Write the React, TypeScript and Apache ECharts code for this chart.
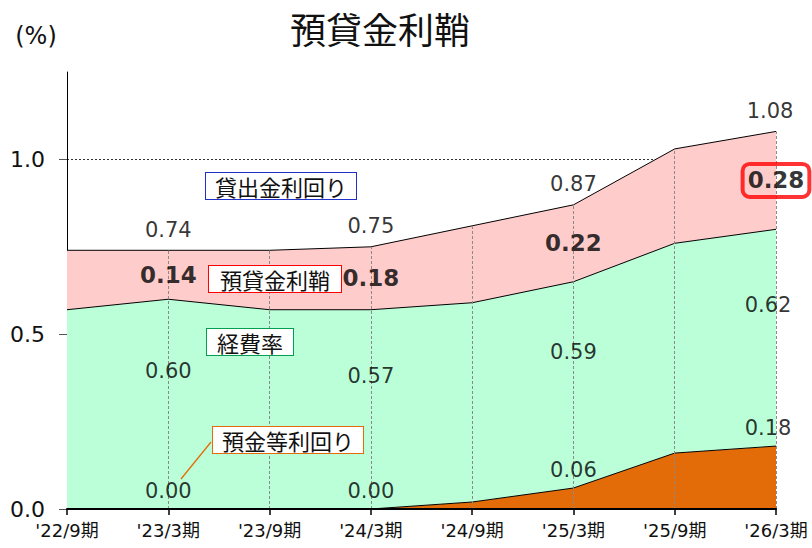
import React, { useEffect, useRef } from "react";
import * as echarts from "echarts";

const categories = ["'22/9期", "'23/3期", "'23/9期", "'24/3期", "'24/9期", "'25/3期", "'25/9期", "'26/3期"];
const depositYield = [0.0, 0.0, 0.0, 0.0, 0.02, 0.06, 0.16, 0.18];
const expenseRatio = [0.57, 0.6, 0.57, 0.57, 0.57, 0.59, 0.6, 0.62];
const loanMargin = [0.17, 0.14, 0.17, 0.18, 0.22, 0.22, 0.27, 0.28];
const loanYield = [0.74, 0.74, 0.74, 0.75, 0.81, 0.87, 1.03, 1.08];
const labelIndices = [1, 3, 5, 7];
const yTickLabels = ["0.0", "0.5", "1.0"];

const FONT = "'DejaVu Sans', 'Noto Sans CJK JP', sans-serif";
const JP = "'Noto Sans CJK JP', 'DejaVu Sans', sans-serif";

const last = categories.length - 1;

// label anchor points, placed through the axes
function labelPoints(yOf: (i: number) => number, valOf: (i: number) => number, lastLabel: any = {}) {
  return labelIndices.map((i) => ({
    value: [i, yOf(i), valOf(i)],
    label: i === last ? lastLabel : undefined,
  }));
}

const valFmt = (p: any) => Number(p.value[2]).toFixed(2);

export default function App() {
  const ref = useRef<HTMLDivElement>(null);
  useEffect(() => {
    if (!ref.current) return;
    const chart = echarts.init(ref.current, null, { renderer: "svg" });
    const dropLines = categories.slice(1).map((_, k) => {
      const i = k + 1;
      return [{ coord: [i, 0] }, { coord: [i, loanYield[i]] }];
    });
    const annot = (text: string, cx: number, cy: number, color: string, padH: number) => ({
      type: "text",
      x: cx,
      y: cy,
      z: 100,
      style: {
        text,
        font: `22px ${JP}`,
        fill: "#111",
        align: "center",
        verticalAlign: "middle",
        backgroundColor: "#fff",
        borderColor: color,
        borderWidth: 1,
        padding: [2, padH, 2, padH],
      },
    });
    const areaSeries = (name: string, data: number[], color: string) => ({
      name,
      type: "line",
      stack: "a",
      data,
      symbol: "none",
      lineStyle: { color: "#000", width: 1 },
      areaStyle: { color, opacity: 1 },
      z: 2,
    });
    const labelSeries = (data: any[], label: any) => ({
      type: "scatter",
      data,
      symbolSize: 0,
      silent: true,
      z: 20,
      itemStyle: { color: "transparent" },
      label: { show: true, color: "#000", fontSize: 21, formatter: valFmt, ...label },
    });
    chart.setOption({
      animation: false,
      textStyle: { fontFamily: FONT },
      grid: { left: 67, right: 36, top: 72, bottom: 39, containLabel: false },
      xAxis: {
        type: "category",
        data: categories,
        boundaryGap: false,
        axisLine: { show: true, lineStyle: { color: "#000", width: 2 } },
        axisTick: { show: true, alignWithLabel: true, length: 6, lineStyle: { color: "#000", width: 1.5 } },
        axisLabel: { fontSize: 18, color: "#111", margin: 12, fontFamily: FONT },
        splitLine: { show: false },
        z: 10,
      },
      yAxis: {
        type: "value",
        min: 0,
        max: 1.25,
        interval: 0.5,
        axisLine: { show: true, lineStyle: { color: "#000", width: 1 } },
        axisTick: { show: true, length: 8, lineStyle: { color: "#555" } },
        axisLabel: {
          fontSize: 22,
          color: "#111",
          margin: 22,
          showMaxLabel: false,
          fontFamily: FONT,
          formatter: (v: number) => {
            const s = v.toFixed(1);
            return yTickLabels.includes(s) ? s : "";
          },
        },
        splitLine: {
          show: true,
          lineStyle: { color: ["none", "none", "#333", "none"], type: [2, 2], width: 1 },
        },
      },
      series: [
        areaSeries("預金等利回り", depositYield, "#E36C09"),
        areaSeries("経費率", expenseRatio, "#BBFFD9"),
        areaSeries("預貸金利鞘", loanMargin, "#FFCCCC"),
        {
          name: "貸出金利回り",
          type: "line",
          data: loanYield,
          symbol: "none",
          lineStyle: { opacity: 0 },
          z: 5,
          silent: true,
          markLine: {
            silent: true,
            symbol: "none",
            label: { show: false },
            lineStyle: { color: "#8a8a8a", type: [3, 2], width: 1 },
            data: dropLines,
          },
        },
        // 預金等利回り labels
        labelSeries(
          labelPoints((i) => depositYield[i], (i) => depositYield[i], { offset: [-8, 0] }),
          { position: "top", distance: 8 }
        ),
        // 経費率 labels
        labelSeries(
          labelPoints((i) => depositYield[i] + expenseRatio[i] / 2, (i) => expenseRatio[i], { offset: [-8, -33] }),
          { position: "inside", offset: [0, -33] }
        ),
        // 預貸金利鞘 labels
        labelSeries(
          labelPoints(
            (i) => depositYield[i] + expenseRatio[i] + loanMargin[i] / 2,
            (i) => loanMargin[i],
            { borderColor: "#FF0000", borderWidth: 4, borderRadius: 7, padding: [6, 5, 4, 5] }
          ),
          { position: "inside", fontSize: 23, fontWeight: "bold", color: "#000" }
        ),
        // 貸出金利回り labels
        labelSeries(
          labelPoints((i) => loanYield[i], (i) => loanYield[i], { offset: [-6, 0] }),
          { position: "top", distance: 10 }
        ),
      ],
      graphic: [
        {
          type: "text",
          x: 380,
          y: 28,
          style: { text: "預貸金利鞘", font: `36px ${JP}`, fill: "#111", align: "center", verticalAlign: "middle" },
        },
        {
          type: "text",
          x: 36,
          y: 36,
          style: { text: "(%)", font: `24px ${FONT}`, fill: "#111", align: "center", verticalAlign: "middle" },
        },
        annot("貸出金利回り", 281, 186, "#2030C8", 9),
        annot("預貸金利鞘", 275, 279, "#FF0000", 11),
        annot("経費率", 250, 342, "#00A050", 10),
        annot("預金等利回り", 288, 440, "#E36C09", 9),
        {
          type: "line",
          z: 100,
          shape: { x1: 211, y1: 442, x2: 181, y2: 479 },
          style: { stroke: "#E36C09", lineWidth: 1.3 },
        },
      ],
    });
    return () => chart.dispose();
  }, []);
  return <div ref={ref} style={{ position: "absolute", left: 0, top: 0, width: 812, height: 548 }} />;
}
